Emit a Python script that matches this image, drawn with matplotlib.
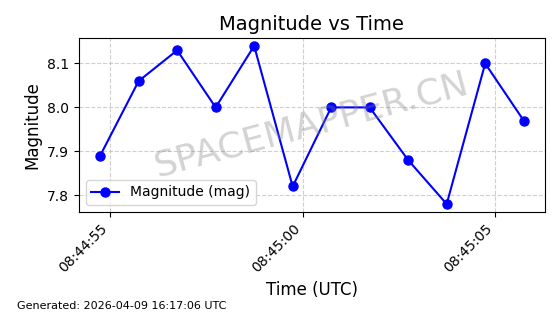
import datetime as dt
import matplotlib
matplotlib.use("Agg")
import matplotlib.pyplot as plt
import matplotlib.dates as mdates

# Sample times (1 s apart) and magnitudes
start = dt.datetime(2026, 4, 9, 8, 44, 54, 740000)
times = [start + dt.timedelta(seconds=k) for k in range(12)]
magnitudes = [7.89, 8.06, 8.13, 8.00, 8.14, 7.82, 8.00, 8.00, 7.88, 7.78, 8.10, 7.97]

title = "Magnitude vs Time"
xlabel = "Time (UTC)"
ylabel = "Magnitude"
series_label = "Magnitude (mag)"
watermark = "SPACEMAPPER.CN"
footer = "Generated: 2026-04-09 16:17:06 UTC"

fig, ax = plt.subplots(figsize=(5.6, 3.14), dpi=100)
fig.subplots_adjust(left=0.141, right=0.973, top=0.879, bottom=0.325)

ax.plot(times, magnitudes, "o-", color="blue", markersize=6.5, linewidth=1.5,
        label=series_label)

ax.set_title(title, fontsize=14)
ax.set_xlabel(xlabel, fontsize=12)
ax.set_ylabel(ylabel, fontsize=12)

ax.xaxis.set_major_locator(mdates.SecondLocator(bysecond=range(0, 60, 5)))
ax.xaxis.set_major_formatter(mdates.DateFormatter("%H:%M:%S"))
plt.setp(ax.get_xticklabels(), rotation=45, ha="right")
ax.set_yticks([7.8, 7.9, 8.0, 8.1])

ax.grid(True, linestyle="--", alpha=0.6)
ax.legend(loc="lower left", fontsize=10)

ax.text(0.5, 0.5, watermark, transform=ax.transAxes, fontsize=26,
        color="gray", alpha=0.35, rotation=15, ha="center", va="center")

fig.text(0.03, 0.015, footer, fontsize=8)

fig.savefig("out.png", dpi=100)
